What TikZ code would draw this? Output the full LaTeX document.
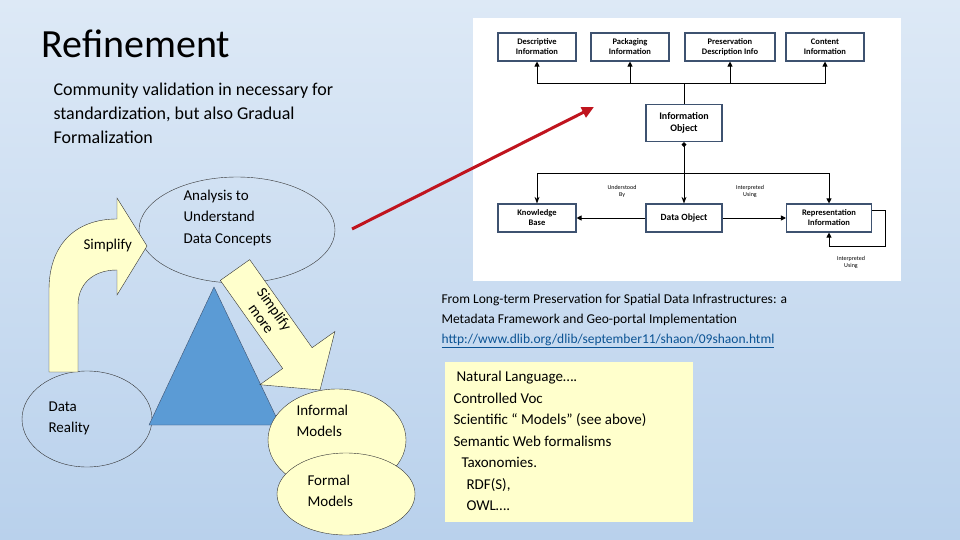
\documentclass[tikz,border=0pt]{standalone}
\usepackage{fontspec}
\setmainfont{Carlito}
\usetikzlibrary{arrows.meta, calc}
\definecolor{bgtop}{HTML}{DDE9F6}
\definecolor{bgbot}{HTML}{B9D1EC}
\definecolor{pale}{HTML}{FFFFCC}
\definecolor{tri}{HTML}{5B9BD5}
\definecolor{boxline}{HTML}{3E5270}
\definecolor{redarr}{HTML}{C0141E}
\definecolor{link}{HTML}{0B5394}

\begin{document}
\begin{tikzpicture}[x=1pt, y=-1pt, >=Stealth,
  txt/.style={font=\fontsize{15}{21}\selectfont, align=left, anchor=west},
  oval/.style={draw=black!80, thin},
  bx/.style={draw=boxline, line width=1.1pt, fill=white, minimum width=78pt, minimum height=28pt,
    font=\fontsize{8.5}{10}\selectfont\bfseries, align=center, inner sep=1pt},
  small/.style={font=\fontsize{6}{7}\selectfont, align=center},
  link/.style={->, line width=0.9pt, >={Triangle[length=5pt,width=5pt]}}
]

% === Background ===
\shade[top color=bgtop, bottom color=bgbot] (0,0) rectangle (960,540);
\useasboundingbox (0,0) rectangle (960,540);

% === Titles ===
\node[anchor=west, font=\fontsize{40}{48}\selectfont] (title) at (38,44) {Refinement};
\node[anchor=north west, font=\fontsize{18}{24}\selectfont, align=left] (sub) at (50,79)
  {Community validation in necessary for\\standardization, but also Gradual\\Formalization};

% === Left cycle ===
\draw[oval] (237,230) ellipse (98 and 53);
\node[txt, font=\fontsize{15}{21.5}\selectfont] (anat) at (180,218) {Analysis to\\Understand\\Data Concepts};

\draw[oval] (87,419) ellipse (65 and 48);
\node[txt] (dr) at (45,418) {Data\\Reality};

% bent Simplify arrow
\draw[fill=pale, draw=black!80, thin]
  (49,372) -- (49,290) .. controls (49,245) and (75,219) .. (117,219)
  -- (117,198) -- (147,246) -- (117,295) -- (117,270)
  .. controls (92,270) and (78,285) .. (78,305) -- (78,372) -- cycle;
\node[anchor=west, font=\fontsize{15}{18}\selectfont] (simp) at (80,246) {Simplify};

% triangle
\draw[fill=tri, draw=boxline] (214,287) -- (280,425) -- (149,425) -- cycle;

% Informal / Formal
\draw[oval, fill=pale] (337,440) ellipse (69 and 51);
\node[txt] (inf) at (293,421) {Informal\\Models};
\draw[oval, fill=pale] (346,494) ellipse (69 and 41);
\node[txt] (for) at (304,491) {Formal\\Models};

% Simplify more arrow
\draw[fill=pale, draw=black!80, thin]
  (249.7,259.6) -- (312.1,347.7) -- (334.9,331.5) -- (320,390)
  -- (259.9,384.7) -- (282.7,368.5) -- (220.3,280.4) -- cycle;
\node[rotate=-54.7, font=\fontsize{15}{16}\selectfont, align=center] (sm) at (268,314) {Simplify\\more};

% === Embedded OAIS figure ===
\fill[white] (473,18) rectangle (901,281);
\node[bx] (desc) at (537,47) {Descriptive\\Information};
\node[bx] (pack) at (630,47) {Packaging\\Information};
\node[bx, minimum width=90pt] (pres) at (730,47) {Preservation\\Description Info};
\node[bx] (cont) at (825,47) {Content\\Information};
\node[bx, minimum width=76pt, minimum height=37pt, font=\fontsize{10}{12}\selectfont\bfseries] (io) at (684,123) {Information\\Object};
\node[bx, minimum width=78pt] (kb) at (537,218) {Knowledge\\Base};
\node[bx, minimum width=76pt, font=\fontsize{9.5}{11}\selectfont\bfseries] (do) at (684,218) {Data Object};
\node[bx, minimum width=85pt] (ri) at (829,218) {Representation\\Information};

\coordinate (bus) at (684,83);
\draw[line width=0.8pt] (io.north) -- (bus);
\draw[link] (bus) -| (desc.south);
\draw[link] (bus) -| (pack.south);
\draw[link] (bus) -| (pres.south);
\draw[link] (bus) -| (cont.south);

\coordinate (lbus) at (684,173);
\draw[line width=0.8pt, -{Diamond[length=5pt,width=5pt]}] (lbus) -- (io.south);
\draw[->, line width=0.8pt] (lbus) -- (do.north);
\draw[->, line width=0.8pt] (lbus) -| (kb.north);
\draw[link] (lbus) -| (ri.north);
\draw[link] (do.west) -- (kb.east);
\draw[link] (do.east) -- (ri.west);
\coordinate (loopa) at (885,210);
\coordinate (loopb) at (885,246);
\draw[link] (ri.east |- loopa) -- (loopa) -- (loopb) -| (ri.south);
\node[small] (ub) at (622,191) {Understood\\By};
\node[small] (iu) at (750,191) {Interpreted\\Using};
\node[small] (iu2) at (851,262) {Interpreted\\Using};

% red arrow
\coordinate (rs) at (352,229);
\coordinate (re) at (594,107);
\draw[redarr, line width=3pt, -{Triangle[length=12pt,width=11pt]}] (rs) -- (re);

% === Citation ===
\node[anchor=north west, font=\fontsize{13.5}{20}\selectfont, align=left] (cite) at (438,291)
  {From Long-term Preservation for Spatial Data Infrastructures: a\\Metadata Framework and Geo-portal Implementation\\
  \textcolor{link}{\underline{http://www.dlib.org/dlib/september11/shaon/09shaon.html}}};

% === Yellow list box ===
\draw[fill=pale, draw=none] (445,362) rectangle (693,522);
\node[anchor=north west, font=\fontsize{15}{21.5}\selectfont, align=left] (list) at (450,368)
  {\hspace*{3pt}Natural Language….\\Controlled Voc\\Scientific “ Models” (see above)\\Semantic Web formalisms\\
  \hspace*{8pt}Taxonomies.\\\hspace*{13pt}RDF(S),\\\hspace*{13pt}OWL….};

\end{tikzpicture}
\end{document}
